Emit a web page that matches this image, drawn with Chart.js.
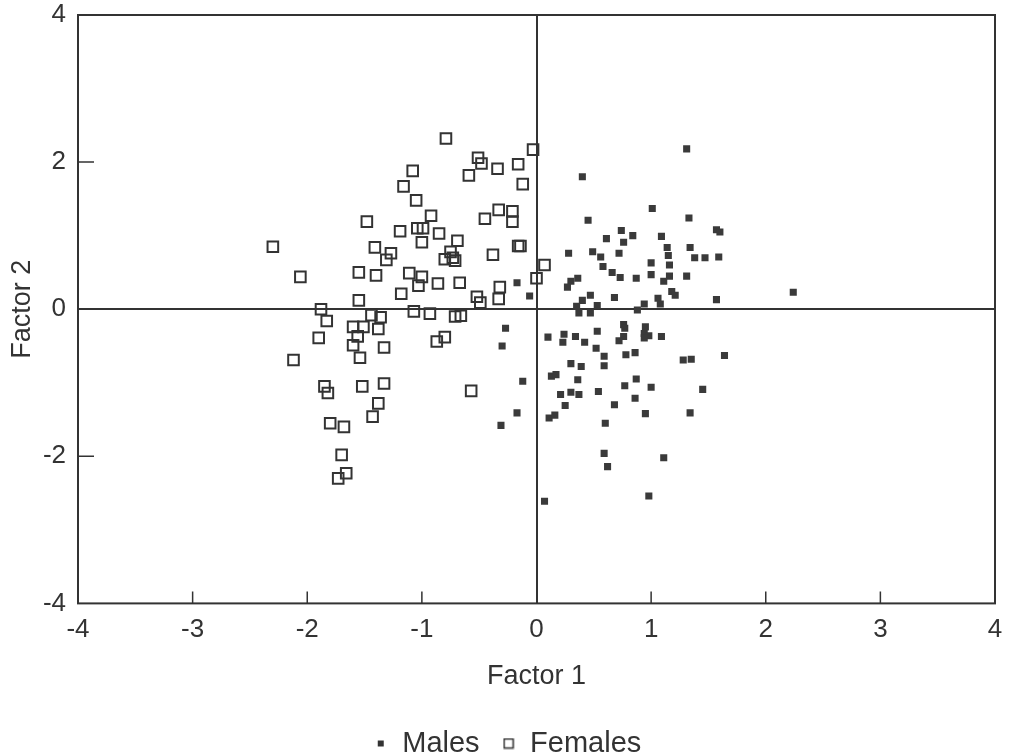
<!DOCTYPE html>
<html>
<head>
<meta charset="utf-8">
<script src="https://cdn.jsdelivr.net/npm/chart.js@4.4.1/dist/chart.umd.min.js"></script>
<style>
  body { margin: 0; background: #fff; }
  #wrap { width: 1015px; height: 752px; }
</style>
</head>
<body>
<div id="wrap"><canvas id="myChart"></canvas></div>
<script>
// factor scores, [factor1, factor2]
const malePoints = [
  [1.31,2.18],[0.40,1.80],[1.01,1.37],[0.45,1.21],[1.33,1.24],[1.57,1.08],[1.60,1.05],[0.61,0.96],
  [0.74,1.07],[0.84,1.00],[0.76,0.91],[1.09,0.99],[0.28,0.76],[0.49,0.78],[0.56,0.71],[0.72,0.76],
  [1.14,0.84],[1.34,0.84],[1.15,0.73],[1.38,0.70],[1.47,0.70],[1.59,0.71],[0.58,0.58],[0.66,0.50],
  [0.73,0.43],[0.87,0.42],[1.00,0.63],[1.00,0.47],[1.16,0.60],[1.16,0.45],[1.11,0.38],[1.31,0.45],
  [0.36,0.42],[0.30,0.38],[0.27,0.30],[-0.17,0.36],[-0.06,0.18],[0.47,0.19],[0.68,0.16],[0.40,0.12],
  [0.35,0.04],[0.53,0.05],[0.37,-0.05],[0.47,-0.05],[1.06,0.15],[1.08,0.07],[0.94,0.07],[0.88,-0.01],
  [1.18,0.24],[1.21,0.19],[1.57,0.13],[2.24,0.23],[-0.27,-0.26],[-0.30,-0.50],[0.76,-0.21],[0.77,-0.26],
  [0.95,-0.24],[0.94,-0.33],[0.98,-0.36],[0.94,-0.39],[1.09,-0.37],[0.53,-0.30],[0.24,-0.34],[0.10,-0.38],
  [0.23,-0.45],[0.34,-0.37],[0.42,-0.45],[0.76,-0.37],[0.72,-0.43],[0.52,-0.53],[0.59,-0.64],[0.59,-0.77],
  [0.78,-0.62],[0.86,-0.59],[0.30,-0.74],[0.39,-0.78],[1.28,-0.69],[1.35,-0.68],[1.64,-0.63],[-0.12,-0.98],
  [0.13,-0.91],[0.17,-0.89],[0.36,-0.96],[0.87,-0.95],[0.77,-1.04],[1.00,-1.06],[1.45,-1.09],[0.21,-1.16],
  [0.30,-1.13],[0.37,-1.16],[0.54,-1.12],[0.86,-1.21],[0.25,-1.31],[0.68,-1.30],[-0.17,-1.41],[-0.31,-1.58],
  [0.11,-1.48],[0.16,-1.44],[0.95,-1.42],[1.34,-1.41],[0.60,-1.55],[0.59,-1.96],[0.62,-2.14],[1.11,-2.02],
  [0.98,-2.54],[0.07,-2.61]
];

const femalePoints = [
  [-0.79,2.32],[-0.03,2.17],[-0.51,2.06],[-0.48,1.98],[-0.34,1.91],[-0.16,1.97],[-0.59,1.82],[-0.12,1.70],
  [-1.08,1.88],[-1.16,1.67],[-1.05,1.48],[-0.33,1.35],[-0.21,1.33],[-0.45,1.23],[-0.21,1.19],[-0.92,1.27],
  [-1.48,1.19],[-1.19,1.06],[-0.99,1.10],[-1.04,1.10],[-0.85,1.03],[-1.00,0.91],[-0.69,0.93],[-0.75,0.78],
  [-0.73,0.70],[-0.71,0.66],[-0.80,0.68],[-0.16,0.86],[-0.14,0.86],[-0.38,0.74],[-2.30,0.85],[-1.41,0.84],
  [-1.27,0.76],[-1.31,0.67],[-2.06,0.44],[-1.55,0.50],[-1.40,0.46],[-1.11,0.49],[-1.00,0.44],[-1.03,0.32],
  [-0.86,0.35],[-0.67,0.36],[0.07,0.60],[0.00,0.42],[-1.18,0.21],[-1.55,0.12],[-0.32,0.30],[-0.33,0.14],
  [-0.52,0.17],[-0.49,0.09],[-1.88,0.00],[-1.83,-0.16],[-1.90,-0.39],[-2.12,-0.69],[-1.60,-0.24],[-1.51,-0.24],
  [-1.56,-0.37],[-1.60,-0.49],[-1.54,-0.66],[-1.38,-0.27],[-1.36,-0.11],[-1.44,-0.08],[-1.33,-0.52],[-1.07,-0.03],
  [-0.93,-0.06],[-0.71,-0.10],[-0.66,-0.09],[-0.87,-0.44],[-0.80,-0.38],[-1.85,-1.05],[-1.82,-1.14],[-1.52,-1.05],
  [-1.33,-1.01],[-1.38,-1.28],[-1.43,-1.46],[-0.57,-1.11],[-1.80,-1.55],[-1.68,-1.60],[-1.70,-1.98],[-1.66,-2.23],
  [-1.73,-2.30]
];

const seriesNames = ['Males', 'Females'];
const xTicks = [-4, -3, -2, -1, 0, 1, 2, 3, 4];
const yTicks = [-4, -2, 0, 2, 4];

const ink = '#333333';
const FONT = "'Liberation Sans', Arial, Helvetica, sans-serif";

// little canvases for the legend so the two markers keep their own sizes
function makeMarker(size, filled) {
    const c = document.createElement('canvas');
    c.width = size + 2;
    c.height = size + 2;
    const g = c.getContext('2d');
    if (filled) {
        g.fillStyle = ink;
        g.fillRect(1, 1, size, size);
    } else {
        g.strokeStyle = ink;
        g.lineWidth = 1.5;
        g.strokeRect(1.5, 1.5, size - 1, size - 1);
    }
    return c;
}
const maleMarker = makeMarker(6, true);
const femaleMarker = makeMarker(10, false);

// frame round the plot plus inward tick marks
const framePlugin = {
    id: 'frame',
    afterDatasetsDraw(chart) {
        const { ctx, chartArea: a, scales } = chart;
        ctx.save();
        ctx.strokeStyle = ink;
        ctx.lineWidth = 2;
        ctx.strokeRect(a.left, a.top, a.right - a.left, a.bottom - a.top);
        ctx.lineWidth = 1.5;
        ctx.beginPath();
        xTicks.forEach(v => {
            if (v === 0 || v === -4 || v === 4) return;
            const px = scales.x.getPixelForValue(v);
            ctx.moveTo(px, a.bottom);
            ctx.lineTo(px, a.bottom - 12);
        });
        yTicks.forEach(v => {
            if (v === 0 || v === -4 || v === 4) return;
            const py = scales.y.getPixelForValue(v);
            ctx.moveTo(a.left, py);
            ctx.lineTo(a.left + 16, py);
        });
        ctx.stroke();
        ctx.restore();
    }
};

const toXY = p => ({ x: p[0], y: p[1] });

new Chart(document.getElementById('myChart'), {
    type: 'scatter',
    data: {
        datasets: [
            {
                label: seriesNames[0],
                data: malePoints.map(toXY),
                pointStyle: 'rect',
                pointRadius: 5,
                backgroundColor: '#3a3a3a',
                borderColor: '#3a3a3a',
                borderWidth: 0
            },
            {
                label: seriesNames[1],
                data: femalePoints.map(toXY),
                pointStyle: 'rect',
                pointRadius: 7.5,
                backgroundColor: 'rgba(0,0,0,0)',
                borderColor: ink,
                borderWidth: 2
            }
        ]
    },
    options: {
        responsive: true,
        maintainAspectRatio: false,
        animation: false,
        events: [],
        layout: { padding: { top: 15, right: 20, left: 20, bottom: -16 } },
        scales: {
            x: {
                type: 'linear',
                min: -4,
                max: 4,
                afterBuildTicks: s => { s.ticks = xTicks.map(v => ({ value: v })); },
                ticks: { color: ink, font: { family: FONT, size: 26 }, padding: 11, maxRotation: 0 },
                grid: {
                    drawTicks: false,
                    lineWidth: 2,
                    color: c => (c.tick && c.tick.value === 0 ? ink : 'rgba(0,0,0,0)')
                },
                border: { display: false },
                title: {
                    display: true,
                    text: 'Factor 1',
                    color: ink,
                    font: { family: FONT, size: 27 },
                    padding: { top: 4, bottom: 14 }
                }
            },
            y: {
                type: 'linear',
                min: -4,
                max: 4,
                afterBuildTicks: s => { s.ticks = yTicks.map(v => ({ value: v })); },
                afterFit: s => { s.width = 58; s.paddingTop = 0; s.paddingBottom = 0; },
                ticks: { color: ink, font: { family: FONT, size: 26 }, padding: 12 },
                grid: {
                    drawTicks: false,
                    lineWidth: 2,
                    color: c => (c.tick && c.tick.value === 0 ? ink : 'rgba(0,0,0,0)')
                },
                border: { display: false },
                title: {
                    display: true,
                    text: 'Factor 2',
                    color: ink,
                    font: { family: FONT, size: 27 },
                    padding: { top: -14, bottom: 0 }
                }
            }
        },
        plugins: {
            tooltip: { enabled: false },
            legend: {
                position: 'bottom',
                labels: {
                    usePointStyle: true,
                    boxWidth: 14,
                    boxHeight: 14,
                    padding: 22,
                    color: ink,
                    font: { family: FONT, size: 29 },
                    generateLabels: () => [
                        { text: seriesNames[0], pointStyle: maleMarker, fillStyle: ink, strokeStyle: ink, lineWidth: 0, fontColor: ink, hidden: false, datasetIndex: 0 },
                        { text: seriesNames[1], pointStyle: femaleMarker, fillStyle: ink, strokeStyle: ink, lineWidth: 0, fontColor: ink, hidden: false, datasetIndex: 1 }
                    ]
                }
            }
        }
    },
    plugins: [framePlugin]
});
</script>
</body>
</html>
